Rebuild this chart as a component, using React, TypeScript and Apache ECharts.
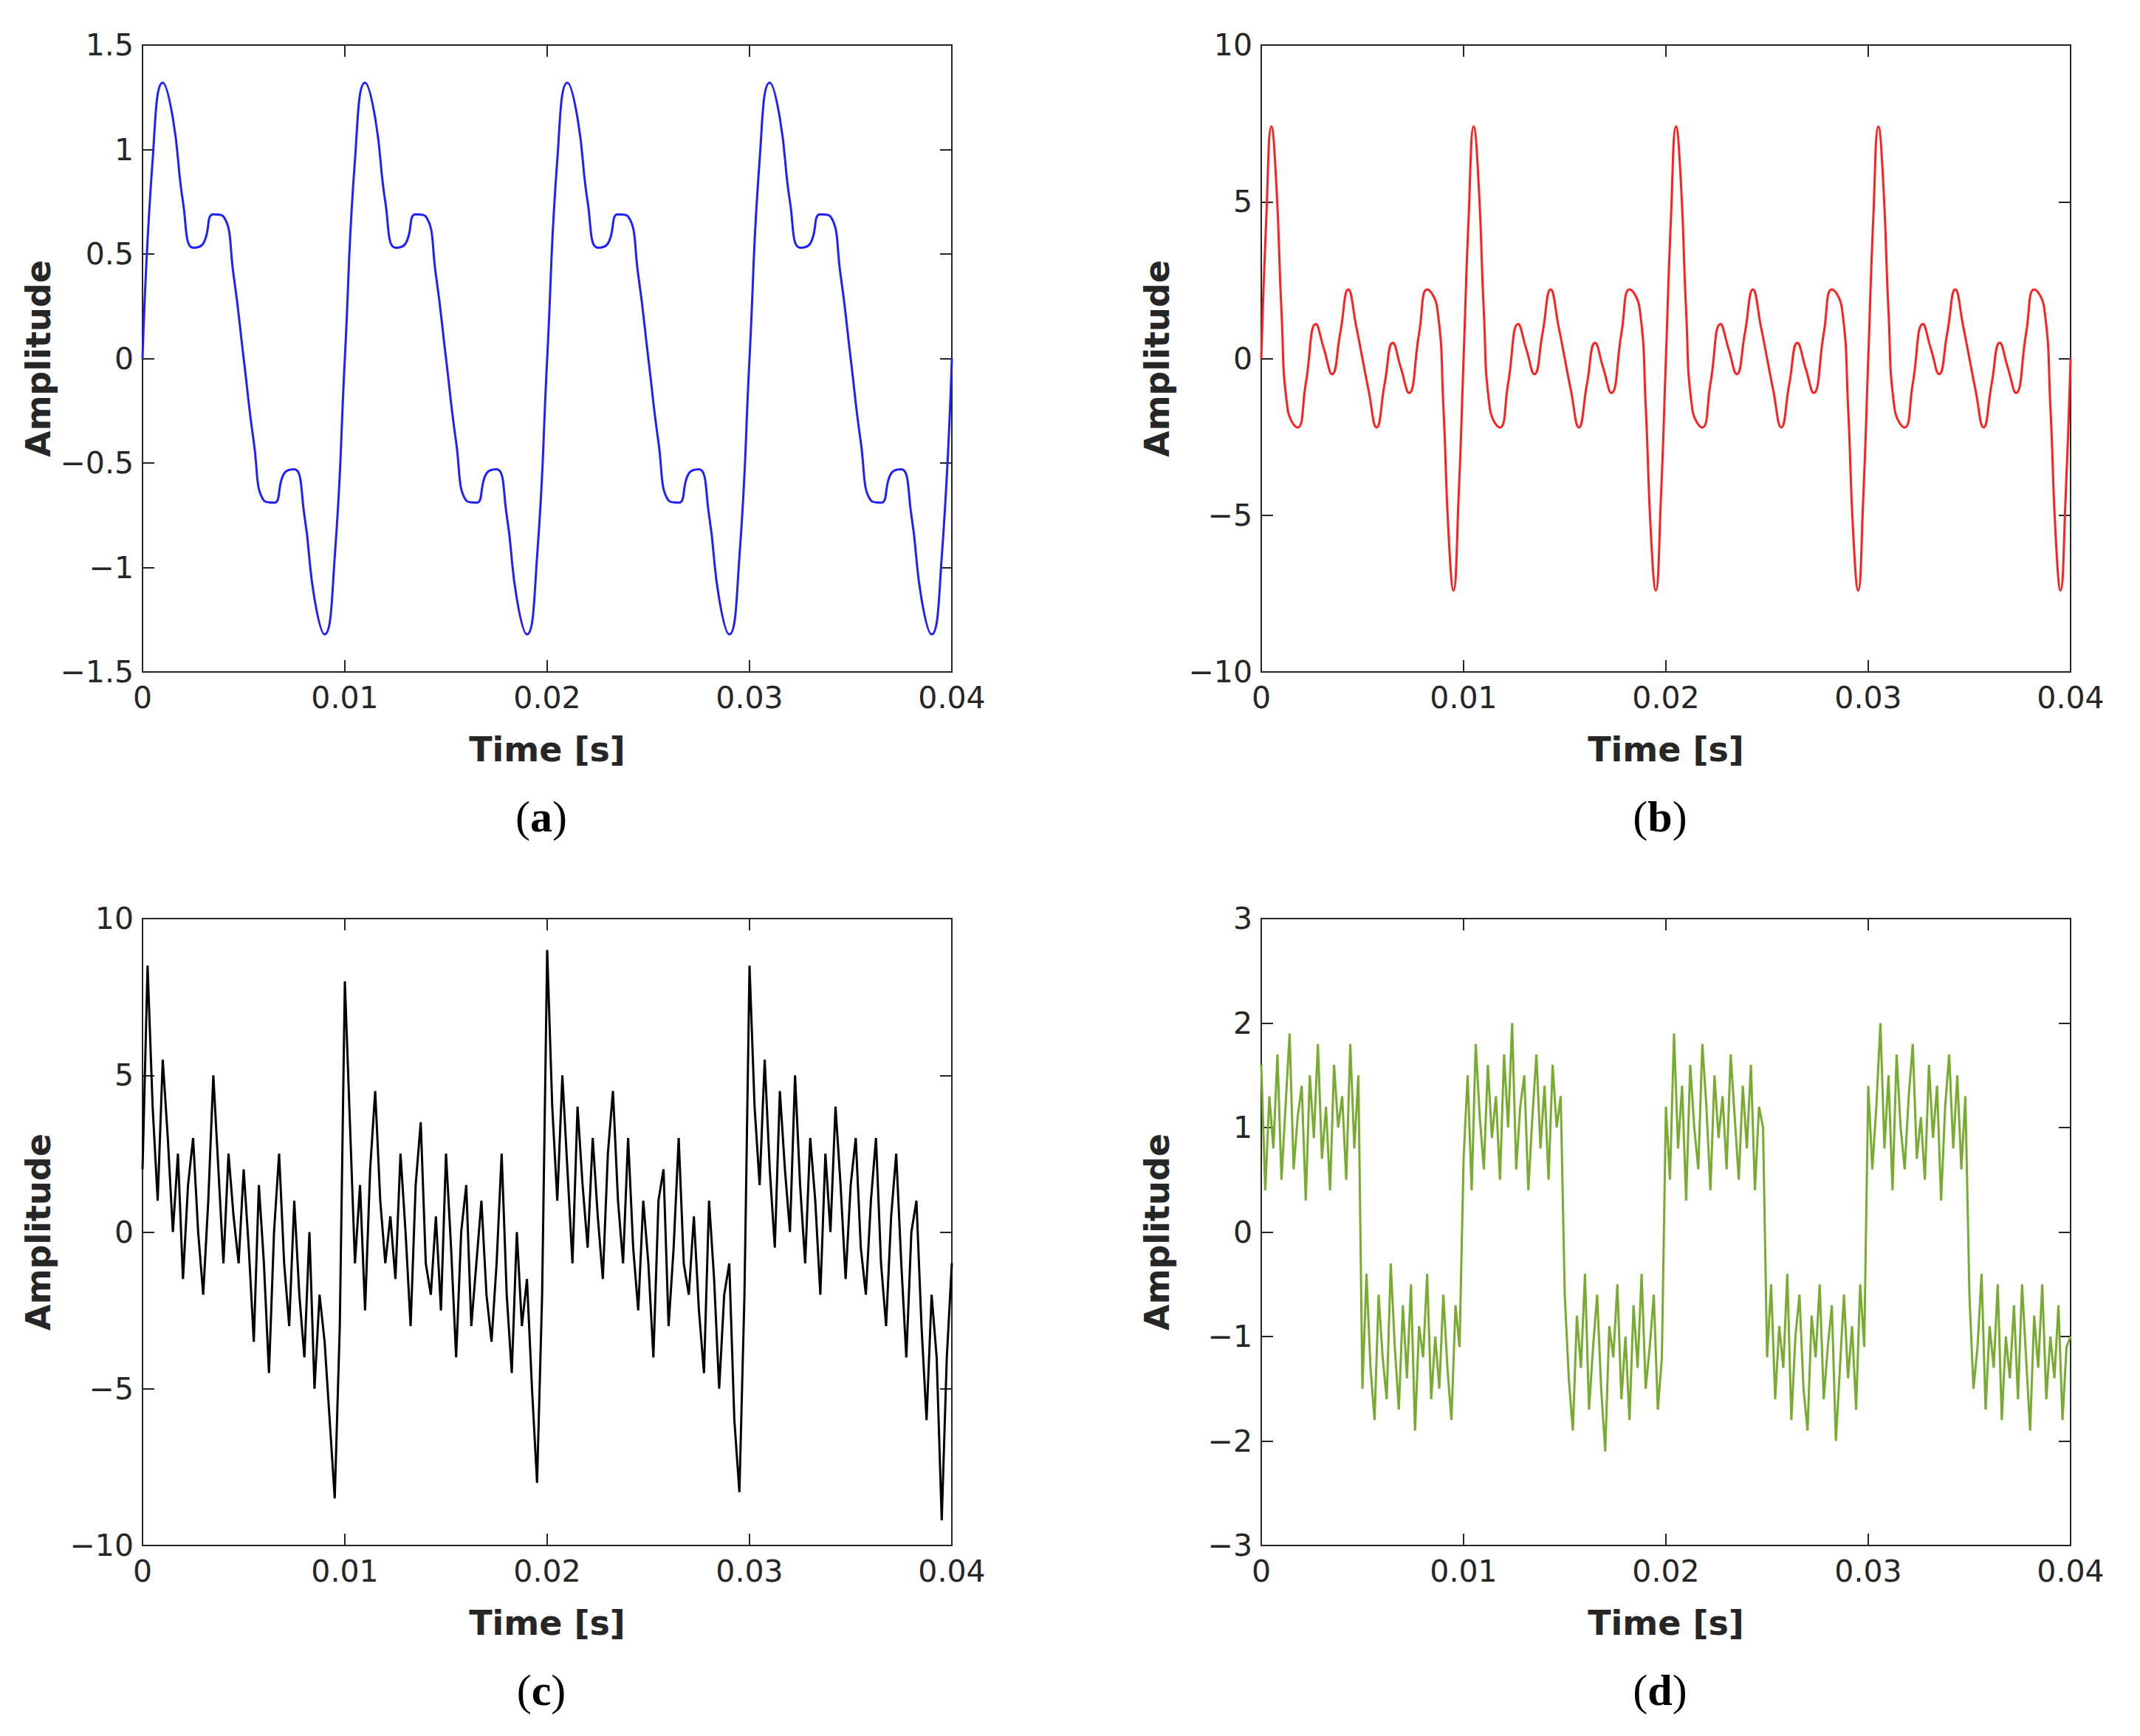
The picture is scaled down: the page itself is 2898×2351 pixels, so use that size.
import * as echarts from "echarts";
import { useEffect, useRef } from "react";

// (a) one period of the blue wave, step 0.0005 s
const periodA = [0, 0.95, 1.32, 1.15, 0.75, 0.53, 0.55, 0.69, 0.68, 0.4, 0, -0.4, -0.68, -0.69, -0.55, -0.53, -0.75, -1.15, -1.32, -0.95];
// (b) one period of the red wave, [t, y]
const periodB: [number, number][] = [
	[0, 0], [0.00025, 4.5], [0.0005, 7.4], [0.00075, 5.5], [0.001, 1.5], [0.0013, -1.6], [0.0018, -2.2], [0.0022, -0.8],
	[0.0027, 1.1], [0.0031, 0.3], [0.0035, -0.5], [0.0039, 0.8], [0.0043, 2.2], [0.0047, 1], [0.005, 0], [0.0053, -1],
	[0.0057, -2.2], [0.0061, -0.8], [0.0065, 0.5], [0.0069, -0.3], [0.0073, -1.1], [0.0078, 0.8], [0.0082, 2.2],
	[0.0087, 1.6], [0.009, -1.5], [0.00925, -5.5], [0.0095, -7.4], [0.00975, -4.5]
];
// (c) noisy black signal, step 0.00025 s
const valuesC = [
	2, 8.5, 4, 1, 5.5, 3, 0, 2.5, -1.5, 1.5,
	3, 0, -2, 1, 5, 2, -1, 2.5, 0.5, -1,
	2, -0.5, -3.5, 1.5, -1, -4.5, 0, 2.5, -1, -3,
	1, -2, -4, 0, -5, -2, -3.5, -6, -8.5, -3,
	8, 3.5, -1, 1.5, -2.5, 2, 4.5, 1, -1, 0.5,
	-1.5, 2.5, 0, -3, 1.5, 3.5, -1, -2, 0.5, -2.5,
	2.5, -0.5, -4, 0, 1.5, -3, -1, 1, -2, -3.5,
	-1, 2.5, -2, -4.5, 0, -3, -1.5, -5, -8, -2,
	9, 4, 1, 5, 2, -1, 4, 1.5, -0.5, 3,
	0.5, -1.5, 2.5, 4.5, 1, -1, 3, -0.5, -2.5, 1,
	-1, -4, 1, 2, -3, -0.5, 3, -1, -2, 0.5,
	-2.5, -4.5, 1, -1.5, -5, -2, -1, -6, -8.3, -2,
	8.5, 4, 1.5, 5.5, 2, -0.5, 4.5, 2, 0, 5,
	1.5, -1, 3, 1, -2, 2.5, 0, 4, 1.5, -1.5,
	1.5, 3, -0.5, -2, 1, 3, -1, -3, 0.5, 2.5,
	-1, -4, 0, 1, -3, -6, -2, -4, -9.2, -4, -1
];
// (d) noisy green square wave, step 0.0002 s
const valuesD = [
	1.6, 0.4, 1.3, 0.8, 1.7, 0.5, 1.2, 1.9, 0.6, 1.1, 1.4, 0.3, 1.5, 0.9, 1.8, 0.7, 1.2, 0.4, 1.6, 1.0, 1.3, 0.5, 1.8, 0.8, 1.5,
	-1.5, -0.4, -1.3, -1.8, -0.6, -1.2, -1.6, -0.3, -1.1, -1.7, -0.7, -1.4, -0.5, -1.9, -0.9, -1.2, -0.4, -1.6, -1.0, -1.5, -0.6, -1.3, -1.8, -0.7, -1.1,
	0.7, 1.5, 0.4, 1.8, 1.1, 0.6, 1.6, 0.9, 1.3, 0.5, 1.7, 1.0, 2.0, 0.6, 1.2, 1.5, 0.4, 1.1, 1.7, 0.8, 1.4, 0.5, 1.6, 1.0, 1.3,
	-0.6, -1.4, -1.9, -0.8, -1.3, -0.4, -1.7, -1.1, -0.6, -1.5, -2.1, -0.9, -1.2, -0.5, -1.6, -1.0, -1.8, -0.7, -1.3, -0.4, -1.5, -1.1, -0.6, -1.7, -1.2,
	1.2, 0.5, 1.9, 0.8, 1.4, 0.3, 1.6, 1.0, 0.6, 1.8, 1.2, 0.4, 1.5, 0.9, 1.3, 0.6, 1.7, 1.1, 0.5, 1.4, 0.8, 1.6, 0.4, 1.2, 1.0,
	-1.2, -0.5, -1.6, -0.9, -1.3, -0.4, -1.8, -1.0, -0.6, -1.5, -1.9, -0.8, -1.2, -0.5, -1.6, -1.1, -0.7, -2.0, -1.3, -0.6, -1.4, -0.9, -1.7, -0.5, -1.1,
	1.4, 0.6, 1.2, 2.0, 0.8, 1.5, 0.4, 1.7, 1.0, 0.6, 1.3, 1.8, 0.7, 1.1, 0.5, 1.6, 0.9, 1.4, 0.3, 1.2, 1.7, 0.8, 1.5, 0.6, 1.3,
	-0.6, -1.5, -1.1, -0.4, -1.7, -0.9, -1.3, -0.5, -1.8, -1.0, -1.4, -0.7, -1.6, -0.5, -1.2, -1.9, -0.8, -1.3, -0.5, -1.6, -1.0, -1.4, -0.7, -1.8, -1.1, -1.0
];

const toPairs = (vals: number[], step: number) => vals.map((v, i) => [i * step, v]);
const dataA: number[][] = [];
for (let p = 0; p < 4; p++) periodA.forEach((v, i) => dataA.push([p * 0.01 + i * 0.0005, v]));
dataA.push([0.04, 0]);
const dataB: number[][] = [];
for (let p = 0; p < 4; p++) periodB.forEach(([t, v]) => dataB.push([p * 0.01 + t, v]));
dataB.push([0.04, 0]);
const dataC = toPairs(valuesC, 0.00025);
const dataD = toPairs(valuesD, 0.0002);

const fmt = (v: number) => {
	const s = String(parseFloat(Math.abs(v).toFixed(3)));
	return v < 0 ? "\u2212" + s : s;
};

const panels = [
	{ left: 185, top: 53, yMin: -1.5, yMax: 1.5, yInt: 0.5, data: dataA, color: "#1f1fff", smooth: true, label: "a" },
	{ left: 1700, top: 53, yMin: -10, yMax: 10, yInt: 5, data: dataB, color: "#ff1f1f", smooth: true, label: "b" },
	{ left: 185, top: 1236, yMin: -10, yMax: 10, yInt: 5, data: dataC, color: "#000000", smooth: false, label: "c" },
	{ left: 1700, top: 1236, yMin: -3, yMax: 3, yInt: 1, data: dataD, color: "#77ac30", smooth: false, label: "d" }
];
const W = 1096, H = 849;
const font = "DejaVu Sans";
const lineStyle = { color: "#262626", width: 2 };

const option: any = {
	animation: false,
	grid: panels.map((p) => ({ left: p.left, top: p.top, width: W, height: H, show: true, borderColor: "#262626", borderWidth: 2 })),
	xAxis: panels.flatMap((p, i) => [
		{
			type: "value", gridIndex: i, min: 0, max: 0.04, interval: 0.01,
			name: "Time [s]", nameLocation: "middle", nameGap: 82,
			nameTextStyle: { fontFamily: font, fontWeight: "bold", fontSize: 46, color: "#262626" },
			axisLine: { onZero: false, lineStyle }, axisTick: { inside: true, length: 16, lineStyle },
			axisLabel: { formatter: fmt, fontFamily: font, fontSize: 41, color: "#262626", margin: 14 },
			splitLine: { show: false }
		},
		{
			type: "value", gridIndex: i, position: "top", min: 0, max: 0.04, interval: 0.01,
			axisLine: { onZero: false, lineStyle }, axisTick: { inside: true, length: 16, lineStyle },
			axisLabel: { show: false }, splitLine: { show: false }
		}
	]),
	yAxis: panels.flatMap((p, i) => [
		{
			type: "value", gridIndex: i, min: p.yMin, max: p.yMax, interval: p.yInt,
			name: "Amplitude", nameLocation: "middle", nameGap: 118,
			nameTextStyle: { fontFamily: font, fontWeight: "bold", fontSize: 46, color: "#262626" },
			axisLine: { onZero: false, lineStyle }, axisTick: { inside: true, length: 16, lineStyle },
			axisLabel: { formatter: fmt, fontFamily: font, fontSize: 41, color: "#262626", margin: 12 },
			splitLine: { show: false }
		},
		{
			type: "value", gridIndex: i, position: "right", min: p.yMin, max: p.yMax, interval: p.yInt,
			axisLine: { onZero: false, lineStyle }, axisTick: { inside: true, length: 16, lineStyle },
			axisLabel: { show: false }, splitLine: { show: false }
		}
	]),
	series: panels.map((p, i) => ({
		type: "line", xAxisIndex: i * 2, yAxisIndex: i * 2, data: p.data,
		smooth: p.smooth, showSymbol: false, lineStyle: { color: p.color, width: 3 }
	})),
	graphic: panels.map((p) => ({
		type: "text", x: p.left + W / 2 - 8, y: p.top + H + 196,
		style: {
			text: "{n|(}{b|" + p.label + "}{n|)}", align: "center", verticalAlign: "middle",
			rich: {
				n: { fontFamily: "Liberation Serif", fontSize: 60, fill: "#000" },
				b: { fontFamily: "Liberation Serif", fontSize: 60, fontWeight: "bold", fill: "#000" }
			}
		}
	}))
};

const App = () => {
	const chartRef = useRef<HTMLDivElement>(null);

	useEffect(() => {
		const chart = echarts.init(chartRef.current!, undefined, { renderer: "svg" });
		chart.setOption(option);
		return () => {
			chart.dispose();
		};
	}, []);

	return <div ref={chartRef} style={{ width: "2882px", height: "2335px" }} />;
};

export default App;
